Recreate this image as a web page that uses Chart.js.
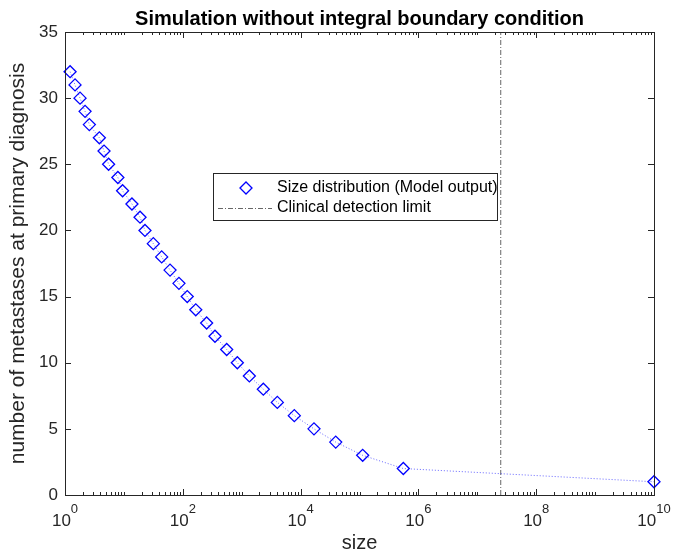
<!DOCTYPE html>
<html>
<head>
<meta charset="utf-8">
<script src="https://cdn.jsdelivr.net/npm/chart.js@4.4.1/dist/chart.umd.min.js"></script>
<style>
  html, body { margin: 0; padding: 0; background: #fff; }
</style>
</head>
<body>
<canvas id="simChart" width="674" height="559"></canvas>
<script>
// metastasis size (x) and how many metastases reach at least that size (y)
const sizes = [1.22, 1.48, 1.8, 2.19, 2.59, 3.83, 4.6, 5.5, 7.9, 9.5, 13.7, 18.8,
  22.8, 31.6, 43.8, 60.7, 86, 119, 166, 254, 352, 556, 843, 1349,
  2328, 4027, 7820, 16870, 39470, 113200, 554600, 1e10];
const counts = [32, 31, 30, 29, 28, 27, 26, 25, 24, 23, 22, 21,
  20, 19, 18, 17, 16, 15, 14, 13, 12, 11, 10, 9,
  8, 7, 6, 5, 4, 3, 2, 1];
const detectionLimit = 2.5e7;
const limitSpan = [0, 35];
const xTickExponents = [0, 2, 4, 6, 8, 10];
const yTickValues = [0, 5, 10, 15, 20, 25, 30, 35];
const chartTitle = "Simulation without integral boundary condition";

const FONT = "'Liberation Sans', Arial, Helvetica, sans-serif";
const AXIS_COLOR = "#262626";

// MATLAB style box with inward ticks on all four sides, plus title
const boxTicks = {
  id: "boxTicks",
  afterDatasetsDraw(chart) {
    const { ctx, chartArea: a, scales: { x, y } } = chart;
    ctx.save();
    ctx.strokeStyle = AXIS_COLOR;
    ctx.lineWidth = 1;
    ctx.strokeRect(Math.round(a.left) + 0.5, Math.round(a.top) + 0.5,
      Math.round(a.right - a.left), Math.round(a.bottom - a.top));

    ctx.beginPath();
    yTickValues.forEach(v => {
      const py = Math.round(y.getPixelForValue(v)) + 0.5;
      ctx.moveTo(a.left, py); ctx.lineTo(a.left + 6, py);
      ctx.moveTo(a.right, py); ctx.lineTo(a.right - 6, py);
    });
    for (let e = 0; e <= 10; e++) {
      for (let m = 1; m <= 9; m++) {
        const v = m * Math.pow(10, e);
        if (v > 1e10) break;
        const major = m === 1 && e % 2 === 0;
        const len = major ? 6 : 3;
        const px = Math.round(x.getPixelForValue(v)) + 0.5;
        ctx.moveTo(px, a.bottom); ctx.lineTo(px, a.bottom - len);
        ctx.moveTo(px, a.top); ctx.lineTo(px, a.top + len);
      }
    }
    ctx.stroke();

    // x tick labels as 10 with a raised exponent
    ctx.fillStyle = AXIS_COLOR;
    ctx.textBaseline = "alphabetic";
    xTickExponents.forEach(e => {
      const px = x.getPixelForValue(Math.pow(10, e));
      ctx.font = "17px " + FONT;
      const wBase = ctx.measureText("10").width;
      ctx.font = "13px " + FONT;
      const wExp = ctx.measureText(String(e)).width;
      const x0 = px - (wBase + wExp) / 2;
      ctx.font = "17px " + FONT;
      ctx.textAlign = "left";
      ctx.fillText("10", x0, a.bottom + 31);
      ctx.font = "13px " + FONT;
      ctx.fillText(String(e), x0 + wBase, a.bottom + 18);
    });

    // title centred over the axes
    ctx.fillStyle = "#000";
    ctx.font = "bold 20px " + FONT;
    ctx.textAlign = "center";
    ctx.fillText(chartTitle, (a.left + a.right) / 2, 25);
    ctx.restore();
  }
};

// legend box sitting inside the axes
const innerLegend = {
  id: "innerLegend",
  afterDraw(chart) {
    const { ctx, chartArea: a } = chart;
    const ds = chart.data.datasets;
    const bx = Math.round(a.left) + 148, by = Math.round(a.top) + 141;
    const bw = 284, bh = 47;
    ctx.save();
    ctx.fillStyle = "#fff";
    ctx.fillRect(bx, by, bw, bh);
    ctx.strokeStyle = AXIS_COLOR;
    ctx.lineWidth = 1;
    ctx.strokeRect(bx + 0.5, by + 0.5, bw, bh);

    const r1 = by + 15, r2 = by + 35;
    // diamond marker
    const mx = bx + 33, r = 6;
    ctx.strokeStyle = ds[0].pointBorderColor;
    ctx.lineWidth = ds[0].pointBorderWidth;
    ctx.beginPath();
    ctx.moveTo(mx - r, r1); ctx.lineTo(mx, r1 - r);
    ctx.lineTo(mx + r, r1); ctx.lineTo(mx, r1 + r);
    ctx.closePath();
    ctx.stroke();
    // dash-dot sample
    ctx.strokeStyle = ds[1].borderColor;
    ctx.lineWidth = 1;
    ctx.setLineDash(ds[1].borderDash);
    ctx.beginPath();
    ctx.moveTo(bx + 5, r2 + 0.5); ctx.lineTo(bx + 59, r2 + 0.5);
    ctx.stroke();
    ctx.setLineDash([]);

    ctx.fillStyle = "#000";
    ctx.font = "16px " + FONT;
    ctx.textAlign = "left";
    ctx.textBaseline = "middle";
    ctx.fillText(ds[0].label, bx + 64, r1);
    ctx.fillText(ds[1].label, bx + 64, r2);
    ctx.restore();
  }
};

const ctx = document.getElementById("simChart").getContext("2d");
new Chart(ctx, {
  type: "line",
  data: {
    datasets: [{
      label: "Size distribution (Model output)",
      data: sizes.map((s, i) => ({ x: s, y: counts[i] })),
      borderColor: "rgba(0,0,255,0.6)",
      borderWidth: 1,
      borderDash: [1, 2],
      pointStyle: "rectRot",
      pointRadius: 6,
      pointBorderWidth: 1.3,
      pointBorderColor: "#0000ff",
      pointBackgroundColor: "rgba(0,0,0,0)",
      tension: 0,
      fill: false,
      clip: false
    }, {
      label: "Clinical detection limit",
      data: limitSpan.map(v => ({ x: detectionLimit, y: v })),
      borderColor: "#666666",
      borderWidth: 1,
      borderDash: [5, 2, 1, 2],
      pointRadius: 0,
      fill: false
    }]
  },
  options: {
    responsive: false,
    animation: false,
    layout: { padding: { right: 20, left: 0, top: 32, bottom: 0 } },
    plugins: {
      legend: { display: false },
      tooltip: { enabled: false },
      title: { display: false }
    },
    scales: {
      x: {
        type: "logarithmic",
        min: 1,
        max: 1e10,
        ticks: { display: false },
        grid: { display: false },
        border: { display: false },
        title: {
          display: true,
          text: "size",
          color: AXIS_COLOR,
          font: { family: FONT, size: 20, lineHeight: 1.2 },
          padding: { top: 0, bottom: 4 }
        },
        afterFit(scale) { scale.height = 64; }
      },
      y: {
        min: 0,
        max: 35,
        afterBuildTicks(scale) { scale.ticks = yTickValues.map(v => ({ value: v })); },
        ticks: {
          color: AXIS_COLOR,
          font: { family: FONT, size: 17 },
          padding: 7
        },
        grid: { display: false, drawTicks: false },
        border: { display: false },
        title: {
          display: true,
          text: "number of metastases at primary diagnosis",
          color: AXIS_COLOR,
          font: { family: FONT, size: 21, lineHeight: 1.2 },
          padding: { top: 6, bottom: 0 }
        },
        afterFit(scale) { scale.width = 65; }
      }
    }
  },
  plugins: [boxTicks, innerLegend]
});
</script>
</body>
</html>
